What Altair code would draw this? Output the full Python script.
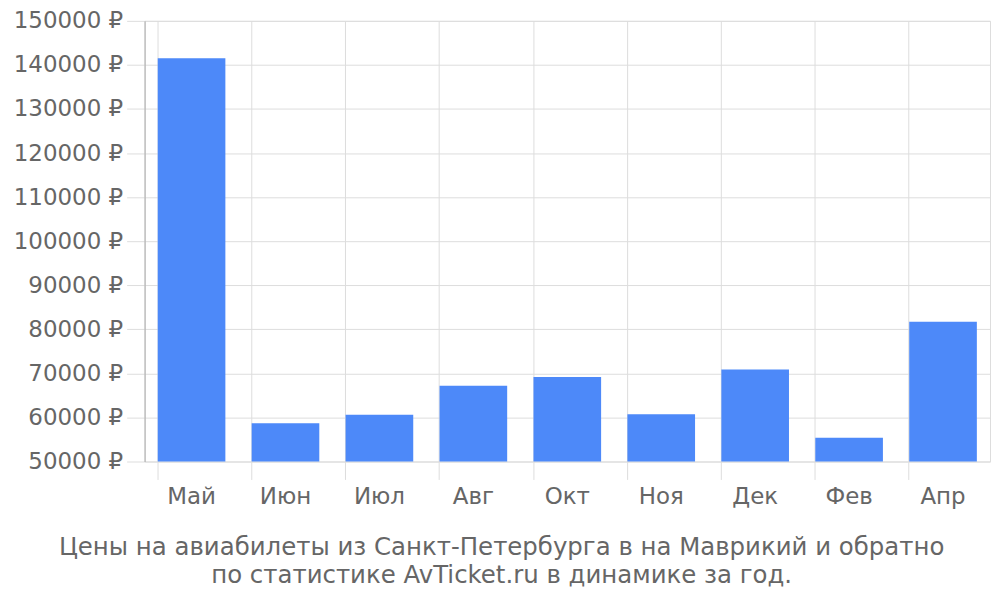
import altair as alt
import pandas as pd

months = ["Май", "Июн", "Июл", "Авг", "Окт", "Ноя", "Дек", "Фев", "Апр"]
prices = [141500, 58700, 60600, 67200, 69200, 60700, 70900, 55400, 81700]
y_ticks = [50000, 60000, 70000, 80000, 90000, 100000, 110000, 120000, 130000, 140000, 150000]
title_lines = ["Цены на авиабилеты из Санкт-Петербурга в на Маврикий и обратно",
               "по статистике AvTicket.ru в динамике за год."]

df = pd.DataFrame({"month": months, "price": prices})

FONT = "DejaVu Sans"
GRAY = "#666666"
GRID = "#dddddd"

chart = alt.Chart(df).mark_bar(color="#4d89f9", clip=True).encode(
    x=alt.X("month:N", sort=months, title=None,
            scale=alt.Scale(paddingInner=0.28, paddingOuter=0.14),
            axis=alt.Axis(grid=True, bandPosition=0, gridColor=GRID, tickColor=GRID,
                          tickSize=18, domain=False, labelAngle=0, labelFont=FONT,
                          labelFontSize=23, labelColor=GRAY, labelPadding=6)),
    y=alt.Y("price:Q", title=None,
            scale=alt.Scale(domain=[50000, 150000], nice=False, zero=False),
            axis=alt.Axis(values=y_ticks, labelExpr="datum.value + ' ₽'",
                          gridColor=GRID, tickColor=GRID, tickSize=18,
                          domainColor="#aaaaaa", labelFont=FONT, labelFontSize=23,
                          labelColor=GRAY, labelPadding=4)),
).properties(
    width=848, height=442,
    autosize=alt.AutoSizeParams(type="none"),
    padding={"left": 137, "top": 12, "right": 2, "bottom": 130},
    title=alt.TitleParams(text=title_lines, orient="bottom", anchor="middle", frame="bounds",
                          font=FONT, fontSize=24.5, fontWeight="normal", color=GRAY,
                          offset=28, lineHeight=28),
).configure_view(stroke=GRID)

chart.save("out.html", embed_options={"renderer": "svg", "actions": False})
